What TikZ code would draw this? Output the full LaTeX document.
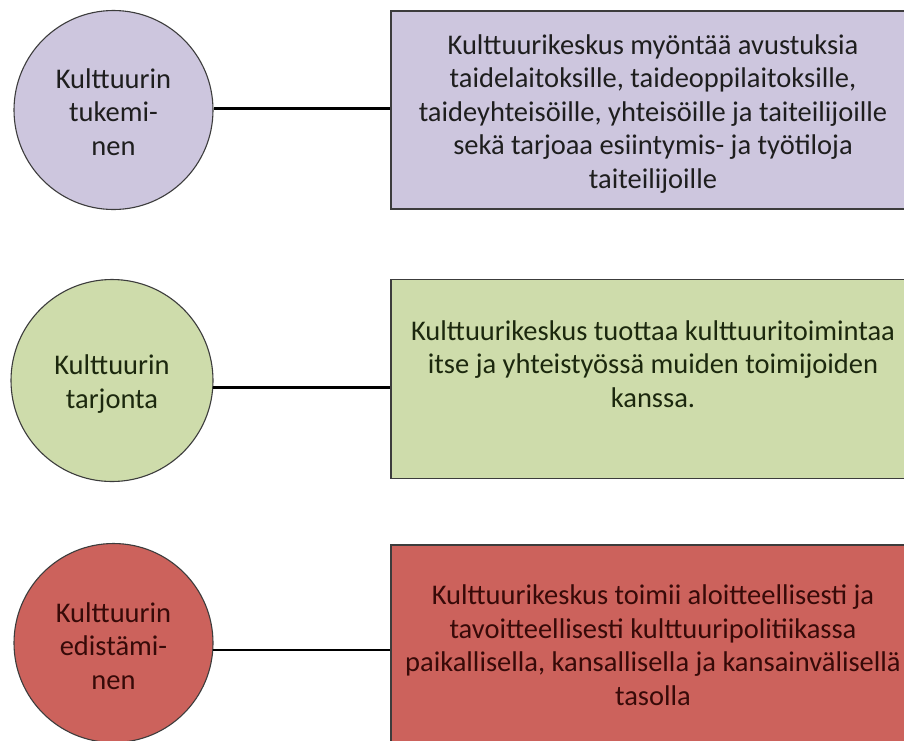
\documentclass[tikz,border=0pt]{standalone}
\usepackage{fontspec}
\setmainfont{Carlito}
\definecolor{lav}{RGB}{205,198,222}
\definecolor{grn}{RGB}{206,220,171}
\definecolor{red1}{RGB}{204,98,92}
\definecolor{bord}{RGB}{60,60,60}
\definecolor{txtA}{RGB}{30,30,30}
\definecolor{txtB}{RGB}{28,40,14}
\definecolor{txtC}{RGB}{55,10,8}
\tikzset{
  circ/.style={circle, draw=bord, line width=1.1pt, inner sep=0pt},
  boxshape/.style={rectangle, draw=bord, line width=1.2pt, inner sep=0pt},
  boxtext/.style={align=center, inner sep=0pt, anchor=base,
    font=\fontsize{28.5}{33.4}\selectfont},
  conn/.style={draw=black, line width=2.6pt}
}
\begin{document}
\begin{tikzpicture}[x=1pt,y=-1pt]
\useasboundingbox (0,0) rectangle (904,740);
\clip (0,0) rectangle (904,740);
\fill[white] (0,0) rectangle (904,740);

% row 1
\node[circ, fill=lav, minimum size=199pt] (c1) at (113.5,110) {};
\node[boxtext, text=txtA] (l1) at (113.5,155) {Kulttuurin\\tukemi-\\nen};
\node[boxshape, fill=lav, minimum width=524pt, minimum height=198pt] (b1) at (653,110) {};
\node[boxtext, text=txtA] (t1) at (653,188) {Kulttuurikeskus myöntää avustuksia\\taidelaitoksille, taideoppilaitoksille,\\taideyhteisöille, yhteisöille ja taiteilijoille\\sekä tarjoaa esiintymis- ja työtiloja\\taiteilijoille};
\draw[conn] (c1.1.1) -- (c1.1.1 -| b1.west);

% row 2
\node[circ, fill=grn, minimum size=202pt] (c2) at (112,380.5) {};
\node[boxtext, text=txtB] (l2) at (112,408) {Kulttuurin\\tarjonta};
\node[boxshape, fill=grn, minimum width=524pt, minimum height=199pt] (b2) at (653,379) {};
\node[boxtext, text=txtB] (t2) at (653,407) {Kulttuurikeskus tuottaa kulttuuritoimintaa\\itse ja yhteistyössä muiden toimijoiden\\kanssa.};
\draw[conn] (c2.-4.3) -- (c2.-4.3 -| b2.west);

% row 3
\node[circ, fill=red1, minimum size=199pt] (c3) at (113.5,643) {};
\node[boxtext, text=txtC] (l3) at (113.5,689) {Kulttuurin\\edistämi-\\nen};
\node[boxshape, fill=red1, minimum width=524pt, minimum height=220pt] (b3) at (653,655) {};
\node[boxtext, text=txtC] (t3) at (653,705) {Kulttuurikeskus toimii aloitteellisesti ja\\tavoitteellisesti kulttuuripolitiikassa\\paikallisella, kansallisella ja kansainvälisellä\\tasolla};
\draw[conn] (c3.-4.6) -- (c3.-4.6 -| b3.west);
\end{tikzpicture}
\end{document}
